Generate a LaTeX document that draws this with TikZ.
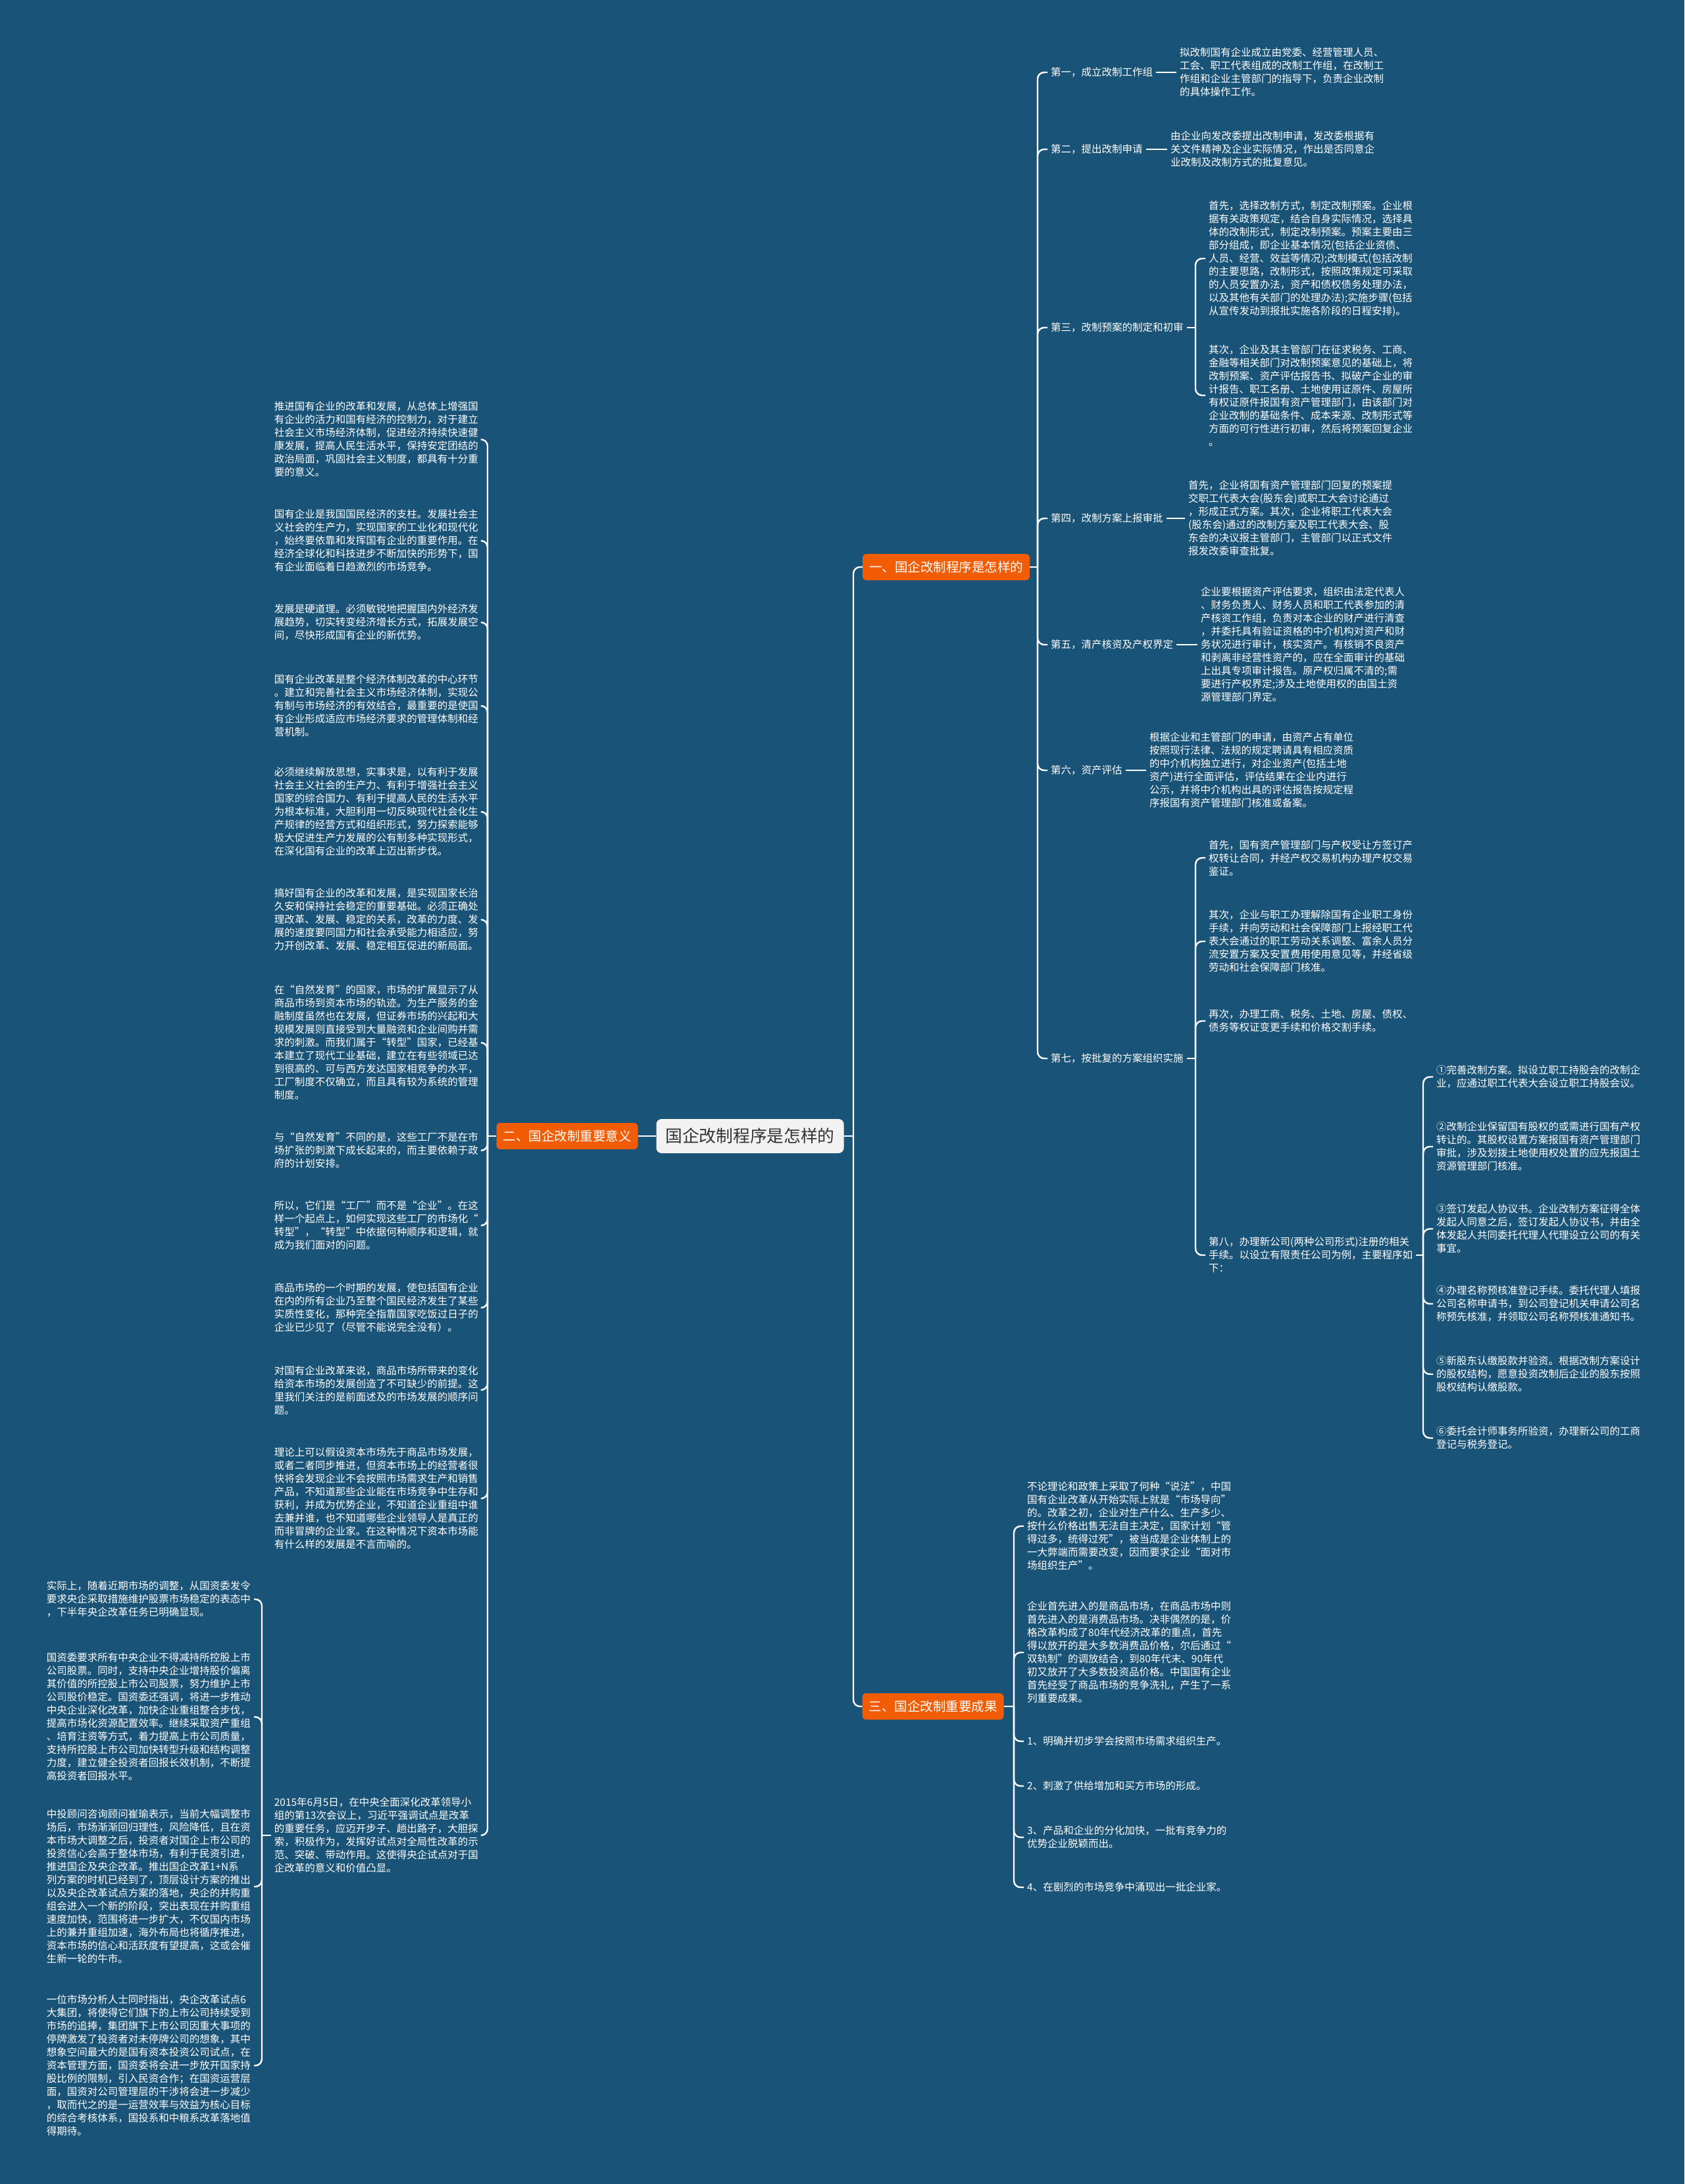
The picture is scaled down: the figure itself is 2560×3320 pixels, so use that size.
\documentclass[tikz,border=0pt]{standalone}
\usepackage{fontspec}
\setmainfont{Noto Sans CJK SC}
\definecolor{bgc}{RGB}{26,83,120}
\definecolor{orng}{RGB}{242,92,5}
\definecolor{ctrfill}{RGB}{242,242,242}
\definecolor{ctrtxt}{RGB}{51,51,51}
\tikzset{
  txt/.style={text=white, font=\fontsize{15.5}{20}\selectfont, align=left, inner xsep=5pt, inner ysep=0pt},
  rt/.style={txt, anchor=west},
  lt/.style={txt, anchor=east},
  branch/.style={fill=orng, text=white, rounded corners=6pt, font=\fontsize{19.5}{22}\selectfont, inner xsep=10pt, inner ysep=0pt, minimum height=40pt},
  root/.style={fill=ctrfill, text=ctrtxt, rounded corners=8pt, font=\fontsize{25.7}{30}\selectfont, inner xsep=14pt, inner ysep=0pt, minimum height=52pt},
  conn/.style={draw=white, line width=2.4pt, rounded corners=10pt}
}
\begin{document}
\begin{tikzpicture}[x=1pt,y=-1pt]
\useasboundingbox (0,0) rectangle (2560,3320);
\fill[bgc] (0,0) rectangle (2560,3320);

% root and branches
\node[root] (c) at (1140,1727) {国企改制程序是怎样的};
\node[branch] (b1) at (1438,862) {一、国企改制程序是怎样的};
\node[branch] (b2) at (862,1727) {二、国企改制重要意义};
\node[branch] (b3) at (1418,2594) {三、国企改制重要成果};

\coordinate (j0) at (1297,1727);
\draw[conn] (c.east) -- (j0);
\draw[conn] (j0) |- (b1.west);
\draw[conn] (j0) |- (b3.west);
\draw[conn] (c.west) -- (b2.east);

% ===== branch one =====
\node[rt] (r1) at (1592,110) {第一，成立改制工作组};
\node[rt] (r2) at (1592,227) {第二，提出改制申请};
\node[rt] (r3) at (1592,498) {第三，改制预案的制定和初审};
\node[rt] (r4) at (1592,788) {第四，改制方案上报审批};
\node[rt] (r5) at (1592,980) {第五，清产核资及产权界定};
\node[rt] (r6) at (1592,1171) {第六，资产评估};
\node[rt] (r7) at (1592,1609) {第七，按批复的方案组织实施};

\coordinate (j1) at (1577,862);
\draw[conn] (b1.east) -- (j1);
\foreach \n in {r1,r2,r3,r4,r5,r6,r7} \draw[conn] (j1) |- (\n.west);

\node[rt] (d1) at (1788,110) {拟改制国有企业成立由党委、经营管理人员、\\工会、职工代表组成的改制工作组，在改制工\\作组和企业主管部门的指导下，负责企业改制\\的具体操作工作。};
\node[rt] (d2) at (1774,227) {由企业向发改委提出改制申请，发改委根据有\\关文件精神及企业实际情况，作出是否同意企\\业改制及改制方式的批复意见。};
\node[rt] (d4) at (1801,788) {首先，企业将国有资产管理部门回复的预案提\\交职工代表大会(股东会)或职工大会讨论通过\\，形成正式方案。其次，企业将职工代表大会\\(股东会)通过的改制方案及职工代表大会、股\\东会的决议报主管部门，主管部门以正式文件\\报发改委审查批复。};
\node[rt] (d5) at (1820,980) {企业要根据资产评估要求，组织由法定代表人\\、财务负责人、财务人员和职工代表参加的清\\产核资工作组，负责对本企业的财产进行清查\\，并委托具有验证资格的中介机构对资产和财\\务状况进行审计，核实资产。有核销不良资产\\和剥离非经营性资产的，应在全面审计的基础\\上出具专项审计报告。原产权归属不清的;需\\要进行产权界定;涉及土地使用权的由国土资\\源管理部门界定。};
\node[rt] (d6) at (1742,1171) {根据企业和主管部门的申请，由资产占有单位\\按照现行法律、法规的规定聘请具有相应资质\\的中介机构独立进行，对企业资产(包括土地\\资产)进行全面评估，评估结果在企业内进行\\公示，并将中介机构出具的评估报告按规定程\\序报国有资产管理部门核准或备案。};
\draw[conn] (r1.east) -- (d1.west);
\draw[conn] (r2.east) -- (d2.west);
\draw[conn] (r4.east) -- (d4.west);
\draw[conn] (r5.east) -- (d5.west);
\draw[conn] (r6.east) -- (d6.west);

% third step
\node[rt] (s31) at (1832,393) {首先，选择改制方式，制定改制预案。企业根\\据有关政策规定，结合自身实际情况，选择具\\体的改制形式，制定改制预案。预案主要由三\\部分组成，即企业基本情况(包括企业资债、\\人员、经营、效益等情况);改制模式(包括改制\\的主要思路，改制形式，按照政策规定可采取\\的人员安置办法，资产和债权债务处理办法，\\以及其他有关部门的处理办法);实施步骤(包括\\从宣传发动到报批实施各阶段的日程安排)。};
\node[rt] (s32) at (1832,601) {其次，企业及其主管部门在征求税务、工商、\\金融等相关部门对改制预案意见的基础上，将\\改制预案、资产评估报告书、拟破产企业的审\\计报告、职工名册、土地使用证原件、房屋所\\有权证原件报国有资产管理部门，由该部门对\\企业改制的基础条件、成本来源、改制形式等\\方面的可行性进行初审，然后将预案回复企业\\。};
\coordinate (j3) at (1817,498);
\draw[conn] (r3.east) -- (j3);
\foreach \n in {s31,s32} \draw[conn] (j3) |- (\n.west);

% seventh step
\node[rt] (s71) at (1832,1304) {首先，国有资产管理部门与产权受让方签订产\\权转让合同，并经产权交易机构办理产权交易\\鉴证。};
\node[rt] (s72) at (1832,1431) {其次，企业与职工办理解除国有企业职工身份\\手续，并向劳动和社会保障部门上报经职工代\\表大会通过的职工劳动关系调整、富余人员分\\流安置方案及安置费用使用意见等，并经省级\\劳动和社会保障部门核准。};
\node[rt] (s73) at (1832,1552) {再次，办理工商、税务、土地、房屋、债权、\\债务等权证变更手续和价格交割手续。};
\node[rt] (r8) at (1832,1908) {第八，办理新公司(两种公司形式)注册的相关\\手续。以设立有限责任公司为例，主要程序如\\下：};
\coordinate (j7) at (1817,1609);
\draw[conn] (r7.east) -- (j7);
\foreach \n in {s71,s72,s73,r8} \draw[conn] (j7) |- (\n.west);

% eighth step children
\node[rt] (e1) at (2178,1637) {①完善改制方案。拟设立职工持股会的改制企\\业，应通过职工代表大会设立职工持股会议。};
\node[rt] (e2) at (2178,1743) {②改制企业保留国有股权的或需进行国有产权\\转让的。其股权设置方案报国有资产管理部门\\审批，涉及划拨土地使用权处置的应先报国土\\资源管理部门核准。};
\node[rt] (e3) at (2178,1868) {③签订发起人协议书。企业改制方案征得全体\\发起人同意之后，签订发起人协议书，并由全\\体发起人共同委托代理人代理设立公司的有关\\事宜。};
\node[rt] (e4) at (2178,1982) {④办理名称预核准登记手续。委托代理人填报\\公司名称申请书，到公司登记机关申请公司名\\称预先核准，并领取公司名称预核准通知书。};
\node[rt] (e5) at (2178,2089) {⑤新股东认缴股款并验资。根据改制方案设计\\的股权结构，愿意投资改制后企业的股东按照\\股权结构认缴股款。};
\node[rt] (e6) at (2178,2186) {⑥委托会计师事务所验资，办理新公司的工商\\登记与税务登记。};
\coordinate (j8) at (2163,1908);
\draw[conn] (r8.east) -- (j8);
\foreach \n in {e1,e2,e3,e4,e5,e6} \draw[conn] (j8) |- (\n.west);

% ===== branch two =====
\node[lt] (L1) at (732,668) {推进国有企业的改革和发展，从总体上增强国\\有企业的活力和国有经济的控制力，对于建立\\社会主义市场经济体制，促进经济持续快速健\\康发展，提高人民生活水平，保持安定团结的\\政治局面，巩固社会主义制度，都具有十分重\\要的意义。};
\node[lt] (L2) at (732,822) {国有企业是我国国民经济的支柱。发展社会主\\义社会的生产力，实现国家的工业化和现代化\\，始终要依靠和发挥国有企业的重要作用。在\\经济全球化和科技进步不断加快的形势下，国\\有企业面临着日趋激烈的市场竞争。};
\node[lt] (L3) at (732,946) {发展是硬道理。必须敏锐地把握国内外经济发\\展趋势，切实转变经济增长方式，拓展发展空\\间，尽快形成国有企业的新优势。};
\node[lt] (L4) at (732,1073) {国有企业改革是整个经济体制改革的中心环节\\。建立和完善社会主义市场经济体制，实现公\\有制与市场经济的有效结合，最重要的是使国\\有企业形成适应市场经济要求的管理体制和经\\营机制。};
\node[lt] (L5) at (732,1234) {必须继续解放思想，实事求是，以有利于发展\\社会主义社会的生产力、有利于增强社会主义\\国家的综合国力、有利于提高人民的生活水平\\为根本标准，大胆利用一切反映现代社会化生\\产规律的经营方式和组织形式，努力探索能够\\极大促进生产力发展的公有制多种实现形式，\\在深化国有企业的改革上迈出新步伐。};
\node[lt] (L6) at (732,1398) {搞好国有企业的改革和发展，是实现国家长治\\久安和保持社会稳定的重要基础。必须正确处\\理改革、发展、稳定的关系，改革的力度、发\\展的速度要同国力和社会承受能力相适应，努\\力开创改革、发展、稳定相互促进的新局面。};
\node[lt] (L7) at (732,1585) {在“自然发育”的国家，市场的扩展显示了从\\商品市场到资本市场的轨迹。为生产服务的金\\融制度虽然也在发展，但证券市场的兴起和大\\规模发展则直接受到大量融资和企业间购并需\\求的刺激。而我们属于“转型”国家，已经基\\本建立了现代工业基础，建立在有些领域已达\\到很高的、可与西方发达国家相竞争的水平，\\工厂制度不仅确立，而且具有较为系统的管理\\制度。};
\node[lt] (L8) at (732,1749) {与“自然发育”不同的是，这些工厂不是在市\\场扩张的刺激下成长起来的，而主要依赖于政\\府的计划安排。};
\node[lt] (L9) at (732,1863) {所以，它们是“工厂”而不是“企业”。在这\\样一个起点上，如何实现这些工厂的市场化“\\转型”，“转型”中依据何种顺序和逻辑，就\\成为我们面对的问题。};
\node[lt] (L10) at (732,1988) {商品市场的一个时期的发展，使包括国有企业\\在内的所有企业乃至整个国民经济发生了某些\\实质性变化，那种完全指靠国家吃饭过日子的\\企业已少见了（尽管不能说完全没有）。};
\node[lt] (L11) at (732,2113) {对国有企业改革来说，商品市场所带来的变化\\给资本市场的发展创造了不可缺少的前提。这\\里我们关注的是前面述及的市场发展的顺序问\\题。};
\node[lt] (L12) at (732,2278) {理论上可以假设资本市场先于商品市场发展，\\或者二者同步推进，但资本市场上的经营者很\\快将会发现企业不会按照市场需求生产和销售\\产品，不知道那些企业能在市场竞争中生存和\\获利，并成为优势企业，不知道企业重组中谁\\去兼并谁，也不知道哪些企业领导人是真正的\\而非冒牌的企业家。在这种情况下资本市场能\\有什么样的发展是不言而喻的。};
\node[lt] (L13) at (732,2790) {2015年6月5日，在中央全面深化改革领导小\\组的第13次会议上，习近平强调试点是改革\\的重要任务，应迈开步子、趟出路子，大胆探\\索，积极作为，发挥好试点对全局性改革的示\\范、突破、带动作用。这使得央企试点对于国\\企改革的意义和价值凸显。};
\coordinate (j2) at (741,1727);
\draw[conn] (b2.west) -- (j2);
\foreach \n in {L1,L2,L3,L4,L5,L6,L7,L8,L9,L10,L11,L12,L13} \draw[conn] (j2) |- (\n.east);

% children of L13
\node[lt] (M1) at (386,2431) {实际上，随着近期市场的调整，从国资委发令\\要求央企采取措施维护股票市场稳定的表态中\\，下半年央企改革任务已明确显现。};
\node[lt] (M2) at (386,2610) {国资委要求所有中央企业不得减持所控股上市\\公司股票。同时，支持中央企业增持股价偏离\\其价值的所控股上市公司股票，努力维护上市\\公司股价稳定。国资委还强调，将进一步推动\\中央企业深化改革，加快企业重组整合步伐，\\提高市场化资源配置效率。继续采取资产重组\\、培育注资等方式，着力提高上市公司质量，\\支持所控股上市公司加快转型升级和结构调整\\力度，建立健全投资者回报长效机制，不断提\\高投资者回报水平。};
\node[lt] (M3) at (386,2868) {中投顾问咨询顾问崔瑜表示，当前大幅调整市\\场后，市场渐渐回归理性，风险降低，且在资\\本市场大调整之后，投资者对国企上市公司的\\投资信心会高于整体市场，有利于民资引进，\\推进国企及央企改革。推出国企改革1+N系\\列方案的时机已经到了，顶层设计方案的推出\\以及央企改革试点方案的落地，央企的并购重\\组会进入一个新的阶段，突出表现在并购重组\\速度加快，范围将进一步扩大，不仅国内市场\\上的兼并重组加速，海外布局也将循序推进，\\资本市场的信心和活跃度有望提高，这或会催\\生新一轮的牛市。};
\node[lt] (M4) at (386,3140) {一位市场分析人士同时指出，央企改革试点6\\大集团，将使得它们旗下的上市公司持续受到\\市场的追捧，集团旗下上市公司因重大事项的\\停牌激发了投资者对未停牌公司的想象，其中\\想象空间最大的是国有资本投资公司试点，在\\资本管理方面，国资委将会进一步放开国家持\\股比例的限制，引入民资合作；在国资运营层\\面，国资对公司管理层的干涉将会进一步减少\\，取而代之的是一运营效率与效益为核心目标\\的综合考核体系，国投系和中粮系改革落地值\\得期待。};
\coordinate (j13) at (398,2790);
\draw[conn] (L13.west) -- (j13);
\foreach \n in {M1,M2,M3,M4} \draw[conn] (j13) |- (\n.east);

% ===== branch three =====
\node[rt] (T1) at (1556,2320) {不论理论和政策上采取了何种“说法”，中国\\国有企业改革从开始实际上就是“市场导向”\\的。改革之初，企业对生产什么、生产多少、\\按什么价格出售无法自主决定，国家计划“管\\得过多，统得过死”，被当成是企业体制上的\\一大弊端而需要改变，因而要求企业“面对市\\场组织生产”。};
\node[rt] (T2) at (1556,2512) {企业首先进入的是商品市场，在商品市场中则\\首先进入的是消费品市场。决非偶然的是，价\\格改革构成了80年代经济改革的重点，首先\\得以放开的是大多数消费品价格，尔后通过“\\双轨制”的调放结合，到80年代末、90年代\\初又放开了大多数投资品价格。中国国有企业\\首先经受了商品市场的竞争洗礼，产生了一系\\列重要成果。};
\node[rt] (T3) at (1556,2647) {1、明确并初步学会按照市场需求组织生产。};
\node[rt] (T4) at (1556,2715) {2、刺激了供给增加和买方市场的形成。};
\node[rt] (T5) at (1556,2793) {3、产品和企业的分化加快，一批有竞争力的\\优势企业脱颖而出。};
\node[rt] (T6) at (1556,2869) {4、在剧烈的市场竞争中涌现出一批企业家。};
\coordinate (jb3) at (1541,2594);
\draw[conn] (b3.east) -- (jb3);
\foreach \n in {T1,T2,T3,T4,T5,T6} \draw[conn] (jb3) |- (\n.west);
\end{tikzpicture}
\end{document}
